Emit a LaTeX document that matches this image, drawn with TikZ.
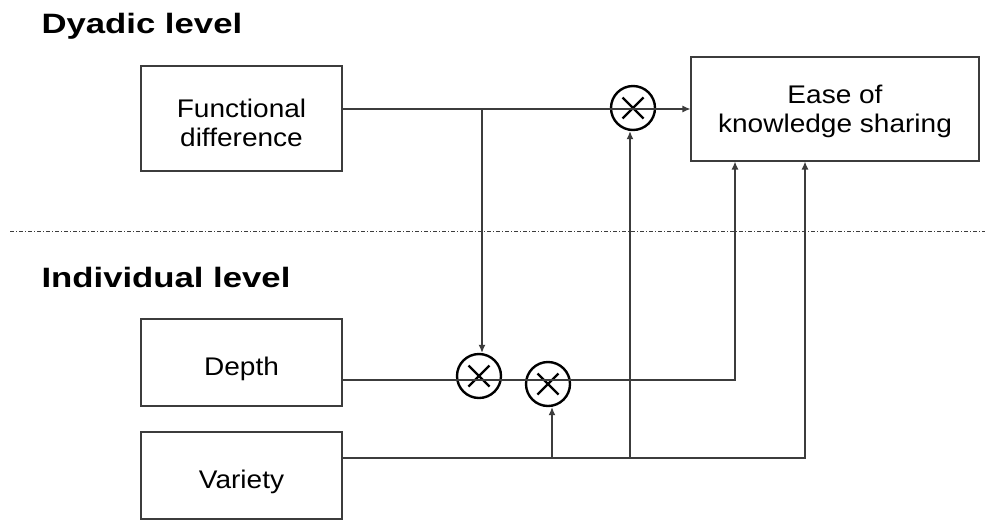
\documentclass[tikz,border=0pt]{standalone}
\usepackage{fontspec}
\setmainfont{Liberation Sans}
\newfontfamily\boxfont{Liberation Sans}[FakeStretch=1.1]
\newfontfamily\headfont{Liberation Sans Bold}[FakeStretch=1.24]
\usetikzlibrary{arrows.meta}
\definecolor{linegray}{RGB}{60,60,60}
\tikzset{
  box/.style={draw=linegray, line width=1.1pt, align=center, inner sep=0pt,
    font=\boxfont\fontsize{25.5}{28.5}\selectfont},
  heading/.style={anchor=base west, font=\headfont\fontsize{28}{30}\selectfont},
  mult/.style={circle, draw=black, line width=2.4pt, minimum size=44pt, inner sep=0pt,
    path picture={\draw[line width=2.2pt]
      ([shift={(-10.5pt,-10.5pt)}]path picture bounding box.center) --
      ([shift={(10.5pt,10.5pt)}]path picture bounding box.center)
      ([shift={(-10.5pt,10.5pt)}]path picture bounding box.center) --
      ([shift={(10.5pt,-10.5pt)}]path picture bounding box.center);}},
  conn/.style={draw=linegray, line width=1.2pt},
  arr/.style={conn, -{Latex[length=8pt,width=7pt]}},
  levelsep/.style={draw=linegray, line width=0.9pt, dash pattern=on 4pt off 2pt on 1pt off 2pt}
}
\begin{document}
\begin{tikzpicture}[x=1pt,y=-1pt]
  \fill[white] (0,0) rectangle (990,520);
  \useasboundingbox (0,0) rectangle (990,520);

  % level headings and separator
  \node[heading] (dyadic) at (38,33) {Dyadic level};
  \node[heading] (indiv) at (38,287) {Individual level};
  \coordinate (sepL) at (10,231);
  \coordinate (sepR) at (985,231);
  \draw[levelsep] (sepL) -- (sepR);

  % variables (text height/depth set the label a little low inside each box)
  \node[box, minimum width=201pt, minimum height=105pt, text height=55pt, text depth=0pt] (fd) at (241.5,118.5) {Functional\\difference};
  \node[box, minimum width=288pt, minimum height=104pt, text depth=0pt] (eks) at (835,109) {Ease of\\knowledge sharing};
  \node[box, minimum width=201pt, minimum height=87pt, text height=26pt, text depth=0pt] (depth) at (241.5,362.5) {Depth};
  \node[box, minimum width=201pt, minimum height=87pt, text height=26pt, text depth=0pt] (variety) at (241.5,475.5) {Variety};

  % interaction terms
  \node[mult] (m3) at (633,108) {};
  \node[mult] (m1) at (479,376) {};
  \node[mult] (m2) at (548,384) {};

  % routing points
  \coordinate (j1) at (482,109);
  \coordinate (d1) at (735,380);
  \coordinate (v1) at (552,458);
  \coordinate (v2) at (630,458);
  \coordinate (v3) at (805,458);

  % connectors
  \draw[arr] (fd.east |- j1) -- (eks.west |- j1);
  \draw[arr] (j1) -- (m1.north -| j1);
  \draw[arr] (depth.east |- d1) -- (d1) -- (eks.south -| d1);
  \draw[arr] (variety.east |- v3) -- (v3) -- (eks.south -| v3);
  \draw[arr] (v1) -- (m2.south -| v1);
  \draw[arr] (v2) -- (m3.south -| v2);
\end{tikzpicture}
\end{document}
